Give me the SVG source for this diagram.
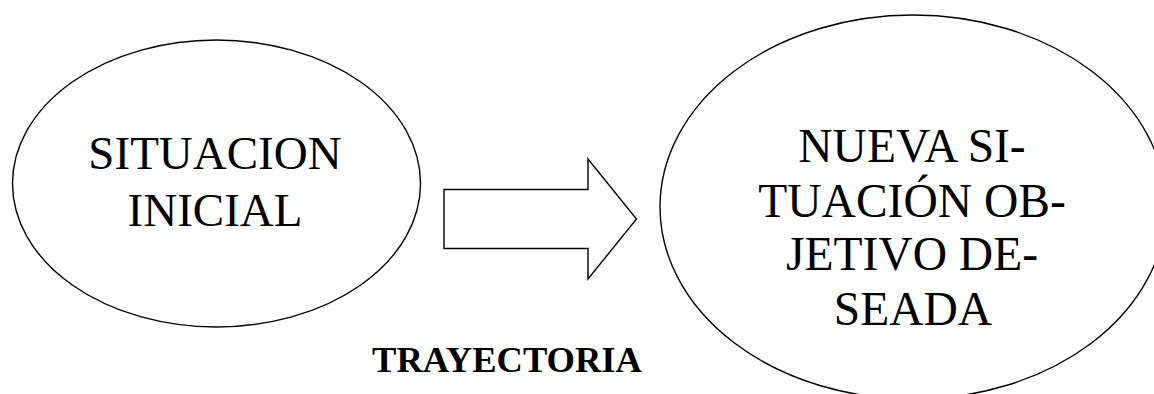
<svg xmlns="http://www.w3.org/2000/svg" width="1154" height="394" viewBox="0 0 1154 394">
<style>
.shape{fill:#fff;stroke:#000;stroke-width:1.4}
.t{font-family:"Liberation Serif","Times New Roman",serif;fill:#000;text-anchor:middle}
.big{font-size:47px}
.lbl{font-size:36.5px;font-weight:bold}
</style>
<rect width="1154" height="394" fill="#fff"/>
<g id="situacion-inicial">
<ellipse class="shape" cx="216.5" cy="183.5" rx="204" ry="143.5"/>
<text class="t big" x="215" y="169">SITUACION</text>
<text class="t big" x="215" y="226">INICIAL</text>
</g>
<g id="connectors">
<polygon class="shape" points="444,189.5 588,189.5 588,159 636.5,219 588,279 588,248.5 444,248.5"/>
</g>
<g id="trayectoria-label">
<text class="t lbl" x="507" y="372">TRAYECTORIA</text>
</g>
<g id="nueva-situacion">
<ellipse class="shape" cx="913" cy="207" rx="253" ry="192"/>
<text class="t big" x="912" y="162" style="font-size:47.5px">NUEVA SI-</text>
<text class="t big" x="912" y="217" style="font-size:47.5px">TUACIÓN OB-</text>
<text class="t big" x="912" y="270" style="font-size:47.5px">JETIVO DE-</text>
<text class="t big" x="913" y="325" style="font-size:47.5px">SEADA</text>
</g>
</svg>
